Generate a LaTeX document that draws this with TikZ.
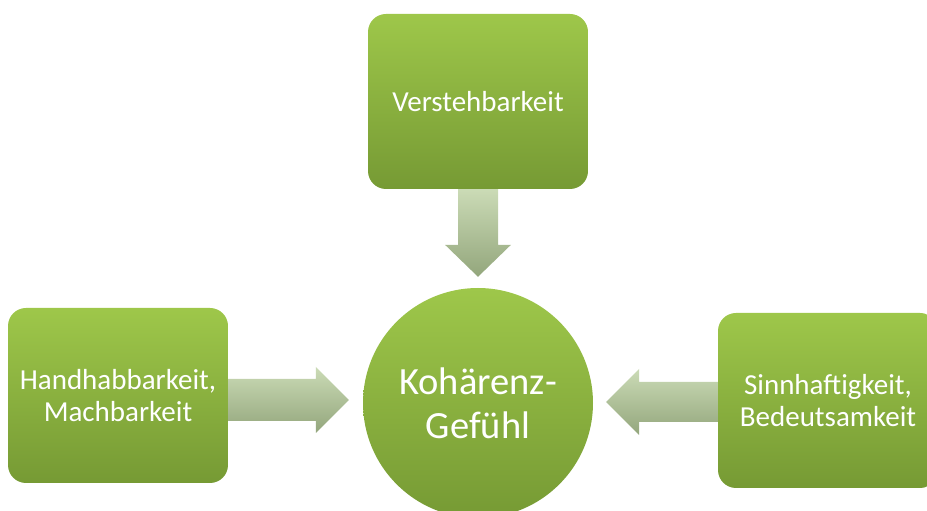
\documentclass[tikz,border=0pt]{standalone}
\usepackage{fontspec}
\setmainfont{Carlito}
\usetikzlibrary{calc}

\definecolor{gruenOben}{RGB}{158,199,74}
\definecolor{gruenUnten}{RGB}{118,154,52}
\definecolor{pfeilOben}{RGB}{203,219,182}
\definecolor{pfeilUnten}{RGB}{147,166,124}

\begin{document}
\begin{tikzpicture}[
		x=1pt, y=1pt,
		box/.style={rectangle, rounded corners=18pt, top color=gruenOben, bottom color=gruenUnten, text=white, align=center, minimum width=220pt, minimum height=175pt, inner sep=0pt, font=\fontsize{29}{32}\selectfont},
		kreis/.style={circle, top color=gruenOben, bottom color=gruenUnten, text=white, align=center, minimum size=230pt, inner sep=0pt, font=\fontsize{38.5}{44}\selectfont},
		pfeil/.style={top color=pfeilOben, bottom color=pfeilUnten}
		]
		\useasboundingbox (0,0) rectangle (927,511);
		
		\node[kreis] (koh) at (478,108) {Kohärenz-\\Gefühl};
		\node[box] (verst) at (478,409.5) {Verstehbarkeit};
		\node[box] (hand) at (118,115.5) {Handhabbarkeit,\\Machbarkeit};
		\node[box] (sinn) at (828,110.5) {Sinnhaftigkeit,\\Bedeutsamkeit};
		
		% Pfeilspitzen und Startpunkte
		\coordinate (tipV) at ($(koh.north)+(0,11)$);
		\coordinate (tipL) at ($(koh.west)+(-14,3)$);
		\coordinate (startL) at (hand.east |- tipL);
		\coordinate (tipR) at ($(koh.east)+(13,1)$);
		\coordinate (startR) at (sinn.west |- tipR);
		
		\path[pfeil] ($(verst.south)+(-20,0)$) -- ($(verst.south)+(20,0)$) -- ($(tipV)+(20,32)$) -- ($(tipV)+(33,32)$) -- (tipV) -- ($(tipV)+(-33,32)$) -- ($(tipV)+(-20,32)$) -- cycle;
		\path[pfeil] ($(startL)+(0,21)$) -- ($(tipL)+(-33,21)$) -- ($(tipL)+(-33,33)$) -- (tipL) -- ($(tipL)+(-33,-33)$) -- ($(tipL)+(-33,-21)$) -- ($(startL)+(0,-21)$) -- cycle;
		\path[pfeil] ($(startR)+(0,20)$) -- ($(tipR)+(33,20)$) -- ($(tipR)+(33,33)$) -- (tipR) -- ($(tipR)+(33,-33)$) -- ($(tipR)+(33,-20)$) -- ($(startR)+(0,-20)$) -- cycle;
	\end{tikzpicture}
\end{document}
